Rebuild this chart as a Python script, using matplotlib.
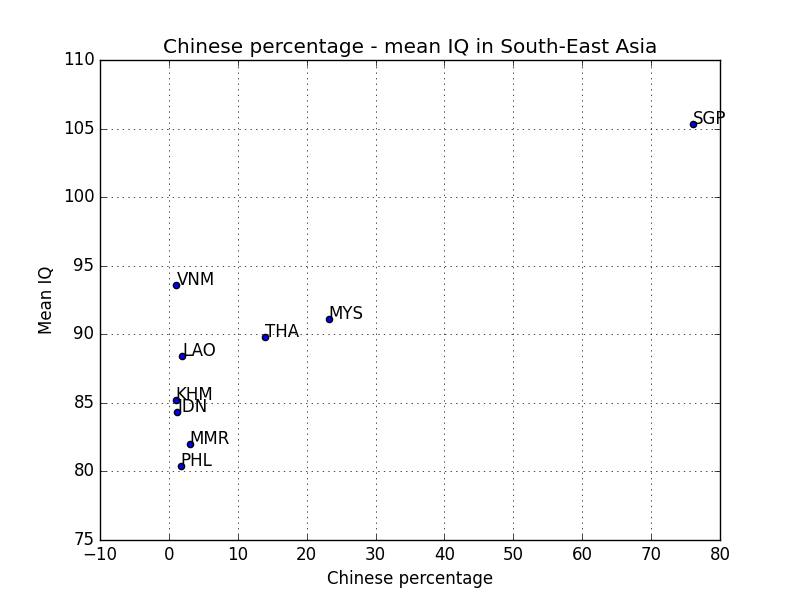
import matplotlib
matplotlib.use('Agg')
import matplotlib.pyplot as plt

plt.style.use('classic')

countries = ['SGP', 'VNM', 'LAO', 'THA', 'MYS', 'KHM', 'IDN', 'MMR', 'PHL']
chinese_pct = [76.1, 1.1, 1.9, 14.0, 23.2, 1.0, 1.2, 3.0, 1.7]
mean_iq = [105.3, 93.6, 88.4, 89.8, 91.1, 85.2, 84.3, 82.0, 80.4]

fig = plt.figure(figsize=(8, 6), dpi=100)
plt.scatter(chinese_pct, mean_iq)
for name, x, y in zip(countries, chinese_pct, mean_iq):
    plt.annotate(name, (x, y))
plt.title('Chinese percentage - mean IQ in South-East Asia')
plt.xlabel('Chinese percentage')
plt.ylabel('Mean IQ')
plt.xlim(-10, 80)
plt.ylim(75, 110)
plt.grid(True)
plt.savefig('out.png', dpi=100)
